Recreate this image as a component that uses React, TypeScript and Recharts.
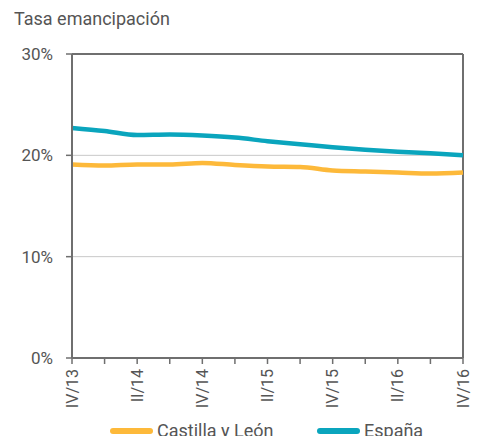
import React from 'react'
import { LineChart, Line, XAxis, YAxis, CartesianGrid, ReferenceLine } from 'recharts'

const quarters = ['IV/13', 'I/14', 'II/14', 'III/14', 'IV/14', 'I/15', 'II/15', 'III/15', 'IV/15', 'I/16', 'II/16', 'III/16', 'IV/16']
const castillaLeon = [19.1, 19.0, 19.1, 19.1, 19.25, 19.05, 18.9, 18.85, 18.5, 18.4, 18.3, 18.2, 18.3]
const espana = [22.7, 22.4, 22.0, 22.05, 21.95, 21.75, 21.4, 21.1, 20.8, 20.55, 20.35, 20.2, 20.0]
const yTicks = [0, 10, 20, 30]

const seriesNames = ['Castilla y León', 'España']
const colors = ['#FDB93A', '#0AA5BD']

const data = quarters.map((q, i) => ({ q, cyl: castillaLeon[i], esp: espana[i] }))

const FONT = 'Roboto, sans-serif'
const TEXT = '#555'
const AXIS = '#6f6f6f'

function QuarterTick(props: any) {
  const { x, y, payload, index } = props
  if (index % 2 !== 0) return null
  return (
    <g transform={`translate(${x},${y + 3})`}>
      <text
        transform="rotate(-90)"
        textAnchor="end"
        dy="0.35em"
        fill={TEXT}
        fontSize={16}
        fontFamily={FONT}
      >
        {payload.value}
      </text>
    </g>
  )
}

export default function App() {
  const legendItem = (i: number, left: number) => (
    <div style={{ position: 'absolute', left, top: 420, display: 'flex', alignItems: 'center', whiteSpace: 'nowrap' }}>
      <span style={{ display: 'inline-block', width: 43, height: 6, borderRadius: 3, background: colors[i], marginRight: 4 }} />
      <span>{seriesNames[i]}</span>
    </div>
  )
  return (
    <div style={{ position: 'absolute', left: 0, top: 0, width: 480, height: 436, background: '#fff', overflow: 'hidden' }}>
      <div style={{ position: 'absolute', left: 14, top: 8, fontFamily: FONT, fontSize: 18, color: TEXT }}>
        Tasa emancipación
      </div>
      <LineChart width={480} height={436} data={data} margin={{ top: 54, right: 17, left: 0, bottom: 0 }}>
        <CartesianGrid vertical={false} stroke="#c8c8c8" strokeWidth={1} />
        <XAxis
          dataKey="q"
          height={78}
          interval={0}
          tickSize={6}
          stroke={AXIS}
          axisLine={{ stroke: AXIS, strokeWidth: 2 }}
          tickLine={{ stroke: AXIS, strokeWidth: 1.5 }}
          tick={<QuarterTick />}
        />
        <YAxis
          width={72}
          domain={[0, 30]}
          ticks={yTicks}
          tickFormatter={(v) => `${v}%`}
          tickSize={6}
          tickMargin={13}
          axisLine={{ stroke: AXIS, strokeWidth: 2 }}
          tickLine={{ stroke: AXIS, strokeWidth: 1.5 }}
          tick={{ fill: TEXT, fontSize: 17, fontFamily: FONT }}
        />
        <ReferenceLine y={30} stroke={AXIS} strokeWidth={2} />
        <ReferenceLine x="IV/16" stroke={AXIS} strokeWidth={2} />
        <Line type="monotone" dataKey="cyl" stroke={colors[0]} strokeWidth={4.5} dot={false} isAnimationActive={false} />
        <Line type="monotone" dataKey="esp" stroke={colors[1]} strokeWidth={4.5} dot={false} isAnimationActive={false} />
      </LineChart>
      <div style={{ fontFamily: FONT, fontSize: 18, color: TEXT }}>
        {legendItem(0, 110)}
        {legendItem(1, 317)}
      </div>
    </div>
  )
}
